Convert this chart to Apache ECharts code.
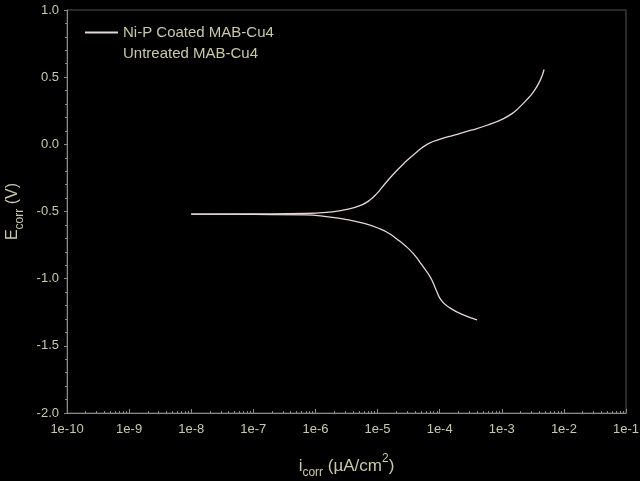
<!DOCTYPE html>
<html>
<head>
<meta charset="utf-8">
<style>html,body{margin:0;padding:0;background:#000;}#c{width:640px;height:481px;}</style>
<script src="https://cdn.jsdelivr.net/npm/echarts@6/dist/echarts.min.js"></script>
</head>
<body>
<div id="c"></div>
<script>
// ---- data ----
const seriesNames = ['Ni-P Coated MAB-Cu4', 'Untreated MAB-Cu4'];
// cathodic branch of Ni-P coated sample: current density, potential
const cathodicI = [4.0e-4, 2.4e-4, 1.48e-4, 1.07e-4, 8.7e-5, 7.1e-5, 5.2e-5, 3.8e-5, 2.8e-5, 2.04e-5, 1.58e-5, 1.1e-5, 6.3e-6, 3.2e-6, 1.6e-6, 6.8e-7, 1e-7, 1e-8];
const cathodicE = [-1.306, -1.269, -1.219, -1.164, -1.08, -0.99, -0.90, -0.816, -0.755, -0.704, -0.667, -0.63, -0.59, -0.56, -0.54, -0.525, -0.522, -0.52];
// anodic branch of Ni-P coated sample
const anodicI = [1e-8, 1e-7, 6.8e-7, 1.6e-6, 3.2e-6, 5.6e-6, 7.6e-6, 9.8e-6, 1.23e-5, 1.78e-5, 2.63e-5, 4.2e-5, 6.6e-5, 1.05e-4, 1.66e-4, 3.2e-4, 5.8e-4, 1.07e-3, 1.58e-3, 1.95e-3, 2.45e-3, 3.24e-3, 4.17e-3, 4.8e-3];
const anodicE = [-0.52, -0.518, -0.515, -0.505, -0.485, -0.45, -0.413, -0.365, -0.31, -0.225, -0.144, -0.06, 0.005, 0.04, 0.067, 0.105, 0.142, 0.192, 0.24, 0.279, 0.325, 0.39, 0.478, 0.557];
// untreated sample: no visible trace in the reference
const untreatedI = [];
const untreatedE = [];
// axis ticks
const xDecades = [-10, -9, -8, -7, -6, -5, -4, -3, -2, -1];
const xTickLabels = ['1e-10', '1e-9', '1e-8', '1e-7', '1e-6', '1e-5', '1e-4', '1e-3', '1e-2', '1e-1'];
const minorMultipliers = [2, 3, 4, 5, 6, 7, 8, 9];

const majorTicks = xDecades.map(d => Math.pow(10, d));
const minorTicks = [];
xDecades.slice(0, -1).forEach(d => minorMultipliers.forEach(m => minorTicks.push(m * Math.pow(10, d))));
const labelMap = {};
xDecades.forEach((d, k) => labelMap[d] = xTickLabels[k]);

const zip = (a, b) => a.map((v, k) => [v, b[k]]);

const txt = '#c9c9a6';
const axisC = '#8a8a8a';
const font = 'Liberation Sans, Arial, sans-serif';
const lineC = '#e6d6d6';

const chart = echarts.init(document.getElementById('c'), null, {renderer: 'canvas'});
chart.setOption({
  backgroundColor: '#000',
  animation: false,
  grid: {left: 67, right: 14, top: 10, bottom: 68, show: true, borderColor: '#555', borderWidth: 1,
    containLabel: false, outerBoundsMode: 'none'},
  legend: {
    orient: 'vertical', left: 80, top: 20, itemWidth: 33, itemHeight: 2, itemGap: 6,
    icon: 'rect',
    data: seriesNames,
    textStyle: {color: txt, fontFamily: font, fontSize: 15, lineHeight: 14}
  },
  xAxis: [{
    type: 'log', logBase: 10, min: 1e-10, max: 1e-1, position: 'bottom',
    name: '{e|i}{s|corr}{e| (µA/cm}{p|2}{e|)}', nameLocation: 'middle', nameGap: 40,
    nameTextStyle: {color: txt, fontFamily: font, rich: {
      e: {fontSize: 17, color: txt, fontFamily: font, lineHeight: 26, verticalAlign: 'middle'},
      s: {fontSize: 12, color: txt, fontFamily: font, lineHeight: 26, verticalAlign: 'bottom', padding: [14, 0, 0, 0]},
      p: {fontSize: 12, color: txt, fontFamily: font, lineHeight: 26, verticalAlign: 'top', padding: [0, 0, 12, 0]}
    }},
    axisLine: {show: true, onZero: false, lineStyle: {color: axisC, width: 1}},
    axisTick: {show: true, inside: true, length: 4, customValues: majorTicks, lineStyle: {color: axisC}},
    axisLabel: {color: txt, fontFamily: font, fontSize: 13, margin: 10, customValues: majorTicks,
      formatter: v => labelMap[Math.round(Math.log10(v))]},
    splitLine: {show: false}
  }, {
    type: 'log', logBase: 10, min: 1e-10, max: 1e-1, position: 'bottom',
    axisLine: {show: false, onZero: false},
    axisTick: {show: true, inside: true, length: 2, customValues: minorTicks, lineStyle: {color: axisC}},
    axisLabel: {show: false},
    splitLine: {show: false}
  }],
  yAxis: {
    type: 'value', min: -2, max: 1, interval: 0.5,
    name: '{e|E}{s|corr}{e| (V)}', nameLocation: 'middle', nameGap: 32,
    nameTextStyle: {color: txt, fontFamily: font, rich: {
      e: {fontSize: 16, color: txt, fontFamily: font, lineHeight: 26, verticalAlign: 'middle'},
      s: {fontSize: 12, color: txt, fontFamily: font, lineHeight: 26, verticalAlign: 'bottom', padding: [14, 0, 0, 0]}
    }},
    axisLine: {show: true, onZero: false, lineStyle: {color: axisC, width: 1}},
    axisTick: {show: true, length: 3, lineStyle: {color: axisC}},
    minorTick: {show: true, splitNumber: 5, length: 2, lineStyle: {color: axisC}},
    axisLabel: {color: txt, fontFamily: font, fontSize: 13, margin: 8, formatter: v => v.toFixed(1)},
    splitLine: {show: false}
  },
  series: [{
    name: seriesNames[0], type: 'line', xAxisIndex: 0, data: zip(cathodicI, cathodicE),
    showSymbol: false, symbol: 'none', smooth: 0.5, lineStyle: {color: lineC, width: 1.3}, itemStyle: {color: lineC}
  }, {
    name: seriesNames[0], type: 'line', xAxisIndex: 0, data: zip(anodicI, anodicE),
    showSymbol: false, symbol: 'none', smooth: 0.5, lineStyle: {color: lineC, width: 1.3}, itemStyle: {color: lineC}
  }, {
    name: seriesNames[1], type: 'line', xAxisIndex: 0, data: zip(untreatedI, untreatedE),
    showSymbol: false, symbol: 'none', lineStyle: {color: '#000', width: 1.3}, itemStyle: {color: '#000'}
  }]
});
</script>
</body>
</html>
